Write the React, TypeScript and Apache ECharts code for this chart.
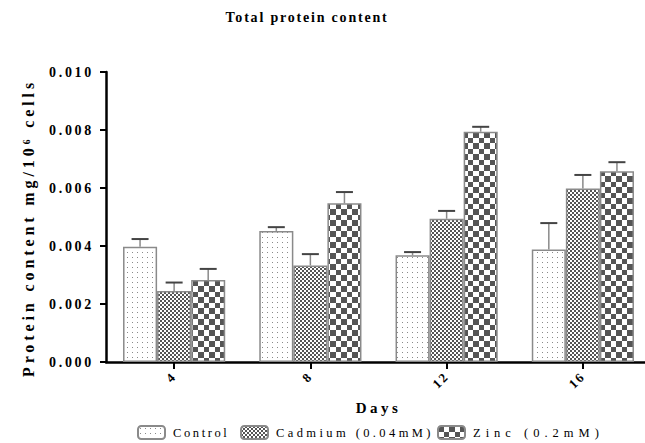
import React, { useEffect, useRef } from "react";
import * as echarts from "echarts";

const FONT = '"Liberation Serif", "Times New Roman", serif';

const days = ["4", "8", "12", "16"];
const seriesNames = ["Control", "Cadmium (0.04mM)", "Zinc (0.2mM)"];
const controlMean = [0.00397, 0.00452, 0.00368, 0.00388];
const controlErr = [0.00027, 0.00013, 0.00011, 0.00091];
const cadmiumMean = [0.00245, 0.00333, 0.00494, 0.00598];
const cadmiumErr = [0.00029, 0.00039, 0.00027, 0.00047];
const zincMean = [0.00283, 0.00547, 0.00794, 0.00658];
const zincErr = [0.00038, 0.00039, 0.00017, 0.00031];

function makeCanvas(w: number, h: number, draw: (ctx: CanvasRenderingContext2D) => void) {
  const c = document.createElement("canvas");
  c.width = w;
  c.height = h;
  const ctx = c.getContext("2d")!;
  ctx.fillStyle = "#ffffff";
  ctx.fillRect(0, 0, w, h);
  draw(ctx);
  return c;
}

export default function App() {
  const ref = useRef<HTMLDivElement>(null);
  useEffect(() => {
    const el = ref.current!;
    const chart = echarts.init(el, undefined, { renderer: "svg" });

    const dots = makeCanvas(5, 5, (ctx) => {
      ctx.fillStyle = "#8a8a8a";
      ctx.fillRect(2, 2, 1, 1);
    });
    const fine = makeCanvas(4, 4, (ctx) => {
      ctx.fillStyle = "#555555";
      ctx.fillRect(0, 0, 2, 2);
      ctx.fillRect(2, 2, 2, 2);
    });
    const big = makeCanvas(11, 11, (ctx) => {
      ctx.fillStyle = "#555555";
      ctx.fillRect(0, 0, 6, 6);
      ctx.fillRect(6, 6, 5, 5);
    });
    const patterns = [dots, fine, big];
    const means = [controlMean, cadmiumMean, zincMean];
    const errs = [controlErr, cadmiumErr, zincErr];
    const GAP = 0.25;

    const barSeries = seriesNames.map((name, k) => ({
      name,
      type: "bar",
      data: means[k],
      barGap: "0%",
      barCategoryGap: GAP * 100 + "%",
      itemStyle: {
        color: { image: patterns[k], repeat: "repeat" },
        borderColor: "#8a8a8a",
        borderWidth: 1.5,
      },
      emphasis: { disabled: true },
      z: 2,
    }));

    const errSeries = seriesNames.map((name, k) => ({
      name: name + " error",
      type: "custom",
      z: 3,
      silent: true,
      data: days.map((_, i) => [i, means[k][i], errs[k][i]]),
      renderItem: (params: any, api: any) => {
        const ci = api.value(0);
        const m = api.value(1);
        const e = api.value(2);
        const base = api.coord([ci, m]);
        const top = api.coord([ci, m + e]);
        const bandW = api.size([1, 0])[0];
        const barW = (bandW * (1 - GAP)) / 3;
        const x = base[0] + (k - 1) * barW;
        return {
          type: "group",
          children: [
            {
              type: "line",
              shape: { x1: x, y1: base[1], x2: x, y2: top[1] },
              style: { stroke: "#8a8a8a", lineWidth: 1.5 },
            },
            {
              type: "line",
              shape: { x1: x - 8.5, y1: top[1], x2: x + 8.5, y2: top[1] },
              style: { stroke: "#444444", lineWidth: 2 },
            },
          ],
        };
      },
    }));

    const legendPos = [
      { left: 137, name: seriesNames[0] },
      { left: 240, name: seriesNames[1] },
      { left: 437, name: seriesNames[2] },
    ];
    const legendSpacing = [2.6, 3.4, 5];

    chart.setOption({
      animation: false,
      title: {
        text: "Total protein content",
        left: 307,
        top: 10,
        textAlign: "center",
        padding: 0,
        textStyle: { fontFamily: FONT, fontWeight: "bold", fontSize: 14, color: "#000" },
      },
      legend: legendPos.map((p) => ({
        data: [p.name],
        left: p.left,
        top: 425,
        padding: 0,
        itemWidth: 27,
        itemHeight: 13,
        selectedMode: false,
        textStyle: { fontFamily: FONT, fontSize: 12.5, color: "#000", padding: [0, 0, 0, 3] },
      })),
      grid: {
        left: 106,
        top: 72,
        width: 545,
        height: 290,
        containLabel: false,
        outerBoundsMode: "none",
      },
      xAxis: {
        type: "category",
        data: days,
        name: "Days",
        nameLocation: "middle",
        nameGap: 38,
        nameTextStyle: { fontFamily: FONT, fontWeight: "bold", fontSize: 15, color: "#000" },
        axisLine: { show: true, lineStyle: { color: "#000", width: 2.5 } },
        axisTick: { show: true, alignWithLabel: true, length: 7, lineStyle: { color: "#000", width: 2 } },
        axisLabel: { rotate: 45, margin: 12, fontFamily: FONT, fontWeight: "bold", fontSize: 13, color: "#000" },
        splitLine: { show: false },
      },
      yAxis: {
        type: "value",
        min: 0,
        max: 0.01,
        interval: 0.002,
        name: "Protein content mg/10\u2076 cells",
        nameLocation: "middle",
        nameGap: 70,
        nameRotate: 90,
        nameTextStyle: {
          fontFamily: FONT,
          fontWeight: "bold",
          fontSize: 16,
          color: "#000",
          padding: [0, 22, 0, 0],
        },
        axisLine: { show: true, lineStyle: { color: "#000", width: 2.5 } },
        axisTick: { show: true, length: 6, lineStyle: { color: "#000", width: 2 } },
        axisLabel: {
          margin: 12,
          formatter: (v: number) => v.toFixed(3),
          fontFamily: FONT,
          fontWeight: "bold",
          fontSize: 14,
          color: "#000",
        },
        splitLine: { show: false },
      },
      series: [...barSeries, ...errSeries],
    });

    const spacing = () => {
      el.querySelectorAll("text").forEach((t) => {
        const s = (t.textContent || "").trim();
        let ls = 0;
        if (s === "Total protein content") ls = 1.8;
        else if (/^0\.\d{3}$/.test(s)) ls = 2.7;
        else if (days.includes(s)) ls = 2;
        else if (s === "Days") ls = 3.4;
        else if (s.startsWith("Protein")) ls = 3.9;
        else if (seriesNames.includes(s)) ls = legendSpacing[seriesNames.indexOf(s)];
        if (ls) t.setAttribute("letter-spacing", String(ls));
      });
    };
    chart.on("finished", spacing);
    spacing();
    const tm = setTimeout(spacing, 50);

    return () => {
      clearTimeout(tm);
      chart.dispose();
    };
  }, []);
  return (
    <div
      ref={ref}
      style={{ position: "absolute", left: 0, top: 0, width: 645, height: 443, background: "#fff" }}
    />
  );
}
